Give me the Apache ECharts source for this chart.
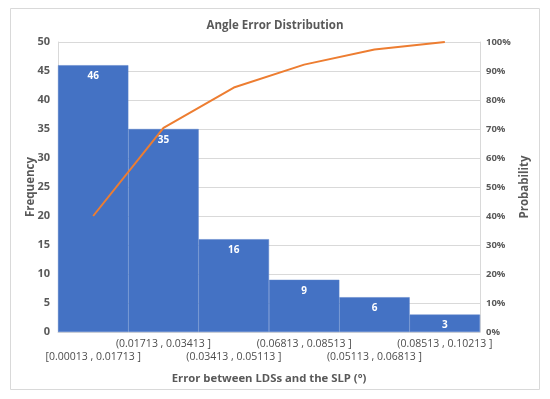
<!DOCTYPE html>
<html><head><meta charset="utf-8">
<script src="https://cdn.jsdelivr.net/npm/echarts@6/dist/echarts.min.js"></script>
<style>html,body{margin:0;padding:0;background:#fff}#c{width:550px;height:399px}</style>
</head><body><div id="c"></div>
<script>
var categories = ['[0.00013 , 0.01713 ]','(0.01713 , 0.03413 ]','(0.03413 , 0.05113 ]','(0.06813 , 0.08513 ]','(0.05113 , 0.06813 ]','(0.08513 , 0.10213 ]'];
var frequency = [46, 35, 16, 9, 6, 3];
var probability = [40, 70.4, 84.3, 92.2, 97.4, 100];
var freqTicks = {min: 0, max: 50, interval: 5};
var probTicks = {min: 0, max: 100, interval: 10};

var FONT = "'Open Sans', 'Noto Sans', sans-serif";
var chart = echarts.init(document.getElementById('c'));
chart.setOption({
  animation: false,
  textStyle: {fontFamily: FONT},
  graphic: [{type: 'rect', shape: {x: 10.5, y: 8.5, width: 529, height: 381}, style: {fill: 'none', stroke: '#d9d9d9', lineWidth: 1}, silent: true}],
  title: {text: 'Angle Error Distribution', left: 'center', top: 15,
    textStyle: {fontFamily: FONT, fontSize: 11.5, fontWeight: 'bold', color: '#595959'}},
  grid: {left: 58, right: 70, top: 42, bottom: 67},
  xAxis: {
    type: 'category', data: categories,
    name: 'Error between LDSs and the SLP (°)', nameLocation: 'middle', nameGap: 41, nameMoveOverlap: false,
    nameTextStyle: {fontFamily: FONT, fontSize: 11.3, fontWeight: 'bold', color: '#595959'},
    axisLine: {lineStyle: {color: '#d9d9d9'}}, axisTick: {show: false},
    axisLabel: {interval: 0, fontSize: 10.5, color: '#4d4d4d', margin: 6, lineHeight: 13,
      formatter: function (v, i) { return i % 2 === 0 ? '\n' + v : v + '\n'; }}
  },
  yAxis: [{
    type: 'value', min: freqTicks.min, max: freqTicks.max, interval: freqTicks.interval,
    name: 'Frequency', nameLocation: 'middle', nameGap: 21, nameRotate: 90, nameMoveOverlap: false,
    nameTextStyle: {fontFamily: FONT, fontSize: 11.5, fontWeight: 'bold', color: '#595959'},
    axisLine: {show: true, lineStyle: {color: '#d9d9d9'}},
    axisLabel: {fontSize: 11, fontWeight: 'bold', color: '#595959', margin: 8},
    splitLine: {lineStyle: {color: '#d9d9d9'}}
  }, {
    type: 'value', min: probTicks.min, max: probTicks.max, interval: probTicks.interval,
    name: 'Probability', nameLocation: 'middle', nameGap: 39, nameRotate: 90, nameMoveOverlap: false,
    nameTextStyle: {fontFamily: FONT, fontSize: 11.5, fontWeight: 'bold', color: '#595959'},
    axisLine: {show: true, lineStyle: {color: '#d9d9d9'}},
    axisLabel: {fontSize: 9.5, fontWeight: 'bold', color: '#595959', margin: 6, formatter: '{value}%'},
    splitLine: {show: false}
  }],
  series: [{
    type: 'bar', data: frequency, barCategoryGap: 0, barGap: 0,
    itemStyle: {color: '#4472C4', borderColor: '#5a80c8', borderWidth: 0.5},
    label: {show: true, position: 'insideTop', distance: 6, color: '#fff', fontSize: 10, fontWeight: 'bold'}
  }, {
    type: 'line', yAxisIndex: 1, data: probability, symbol: 'none',
    lineStyle: {color: '#ED7D31', width: 2}
  }]
});
</script></body></html>
